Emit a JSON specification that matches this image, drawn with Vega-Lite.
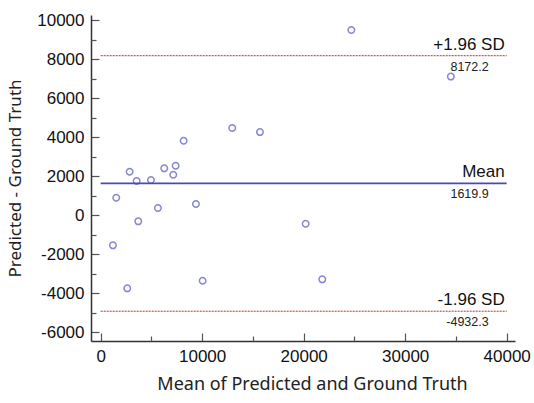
{
  "$schema": "https://vega.github.io/schema/vega-lite/v6.json",
  "width": 424,
  "height": 326,
  "autosize": {"type": "none"},
  "padding": {"left": 91, "top": 15, "right": 19, "bottom": 62},
  "background": "white",
  "config": {"view": {"stroke": null}, "axis": {"grid": false, "domainColor": "#333333", "tickColor": "#555555", "labelColor": "#111111", "titleColor": "#222222"}},
  "datasets": {
    "points": [
      {"mean": 1537, "diff": 887}, {"mean": 1212, "diff": -1554}, {"mean": 2621, "diff": -3759},
      {"mean": 2857, "diff": 2221}, {"mean": 3547, "diff": 1744}, {"mean": 3704, "diff": -323},
      {"mean": 4956, "diff": 1795}, {"mean": 5645, "diff": 359}, {"mean": 6266, "diff": 2395},
      {"mean": 7153, "diff": 2067}, {"mean": 7389, "diff": 2528}, {"mean": 8177, "diff": 3810},
      {"mean": 9389, "diff": 564}, {"mean": 10049, "diff": -3369}, {"mean": 12966, "diff": 4462},
      {"mean": 15695, "diff": 4256}, {"mean": 20197, "diff": -446}, {"mean": 21833, "diff": -3297},
      {"mean": 24700, "diff": 9490}, {"mean": 34500, "diff": 7100}
    ],
    "sd": [
      {"name": "+1.96 SD", "value": 8172.2, "label": "8172.2"},
      {"name": "-1.96 SD", "value": -4932.3, "label": "-4932.3"}
    ],
    "mean": [
      {"name": "Mean", "value": 1619.9, "label": "1619.9"}
    ],
    "lines": [
      {"name": "+1.96 SD", "value": 8172.2, "label": "8172.2"},
      {"name": "Mean", "value": 1619.9, "label": "1619.9"},
      {"name": "-1.96 SD", "value": -4932.3, "label": "-4932.3"}
    ]
  },
  "resolve": {"axis": {"x": "independent", "y": "independent"}},
  "layer": [
    {
      "data": {"name": "points"},
      "mark": {"type": "point", "shape": "circle", "filled": false, "size": 42, "strokeWidth": 1.5, "color": "#5555c0"},
      "encoding": {
        "x": {"field": "mean", "type": "quantitative",
          "scale": {"domain": [-950, 40820], "nice": false, "zero": false},
          "axis": {"orient": "bottom", "values": [0, 10000, 20000, 30000, 40000], "format": "d", "tickSize": -8, "labelPadding": 15, "labelFont": "Liberation Sans", "labelFontSize": 17, "title": "Mean of Predicted and Ground Truth", "titleFont": "Noto Sans", "titleFontSize": 18, "titleFontWeight": "normal", "titlePadding": 11, "titleX": 221, "domainWidth": 1.5, "tickWidth": 1.2}},
        "y": {"field": "diff", "type": "quantitative",
          "scale": {"domain": [-6460, 10260], "nice": false, "zero": false},
          "axis": {"orient": "left", "values": [-6000, -4000, -2000, 0, 2000, 4000, 6000, 8000, 10000], "labelExpr": "datum.value < 0 ? '-' + format(-datum.value, 'd') : format(datum.value, 'd')", "tickSize": -8, "labelPadding": 15, "labelFont": "Liberation Sans", "labelFontSize": 17, "title": "Predicted - Ground Truth", "titleFont": "Noto Sans", "titleFontSize": 17, "titleFontWeight": "normal", "titlePadding": 12, "domainWidth": 1.5, "tickWidth": 1.2}}
      }
    },
    {
      "data": {"name": "sd"},
      "mark": {"type": "rule", "strokeWidth": 1, "color": "#b83030", "strokeDash": [2, 1]},
      "encoding": {
        "x": {"datum": 0, "type": "quantitative",
          "axis": {"orient": "bottom", "values": [5000, 15000, 25000, 35000], "tickSize": -5, "labels": false, "domain": false, "title": null, "tickWidth": 1.2}},
        "x2": {"datum": 40000},
        "y": {"field": "value", "type": "quantitative",
          "axis": {"orient": "left", "values": [-5000, -3000, -1000, 1000, 3000, 5000, 7000, 9000], "tickSize": -5, "labels": false, "domain": false, "title": null, "tickWidth": 1.2}}
      }
    },
    {
      "data": {"name": "mean"},
      "mark": {"type": "rule", "strokeWidth": 1.8, "color": "#4a4ab4"},
      "encoding": {
        "x": {"datum": 0, "type": "quantitative", "axis": null},
        "x2": {"datum": 40000},
        "y": {"field": "value", "type": "quantitative", "axis": null}
      }
    },
    {
      "data": {"name": "lines"},
      "mark": {"type": "text", "align": "right", "baseline": "alphabetic", "dx": -2, "dy": -6, "font": "Liberation Sans", "fontSize": 17, "color": "#111111"},
      "encoding": {
        "x": {"datum": 40000, "type": "quantitative", "axis": null},
        "y": {"field": "value", "type": "quantitative", "axis": null},
        "text": {"field": "name"}
      }
    },
    {
      "data": {"name": "lines"},
      "mark": {"type": "text", "align": "right", "baseline": "top", "dx": -18, "dy": 5, "font": "Liberation Sans", "fontSize": 12.5, "color": "#222222"},
      "encoding": {
        "x": {"datum": 40000, "type": "quantitative", "axis": null},
        "y": {"field": "value", "type": "quantitative", "axis": null},
        "text": {"field": "label"}
      }
    }
  ]
}
